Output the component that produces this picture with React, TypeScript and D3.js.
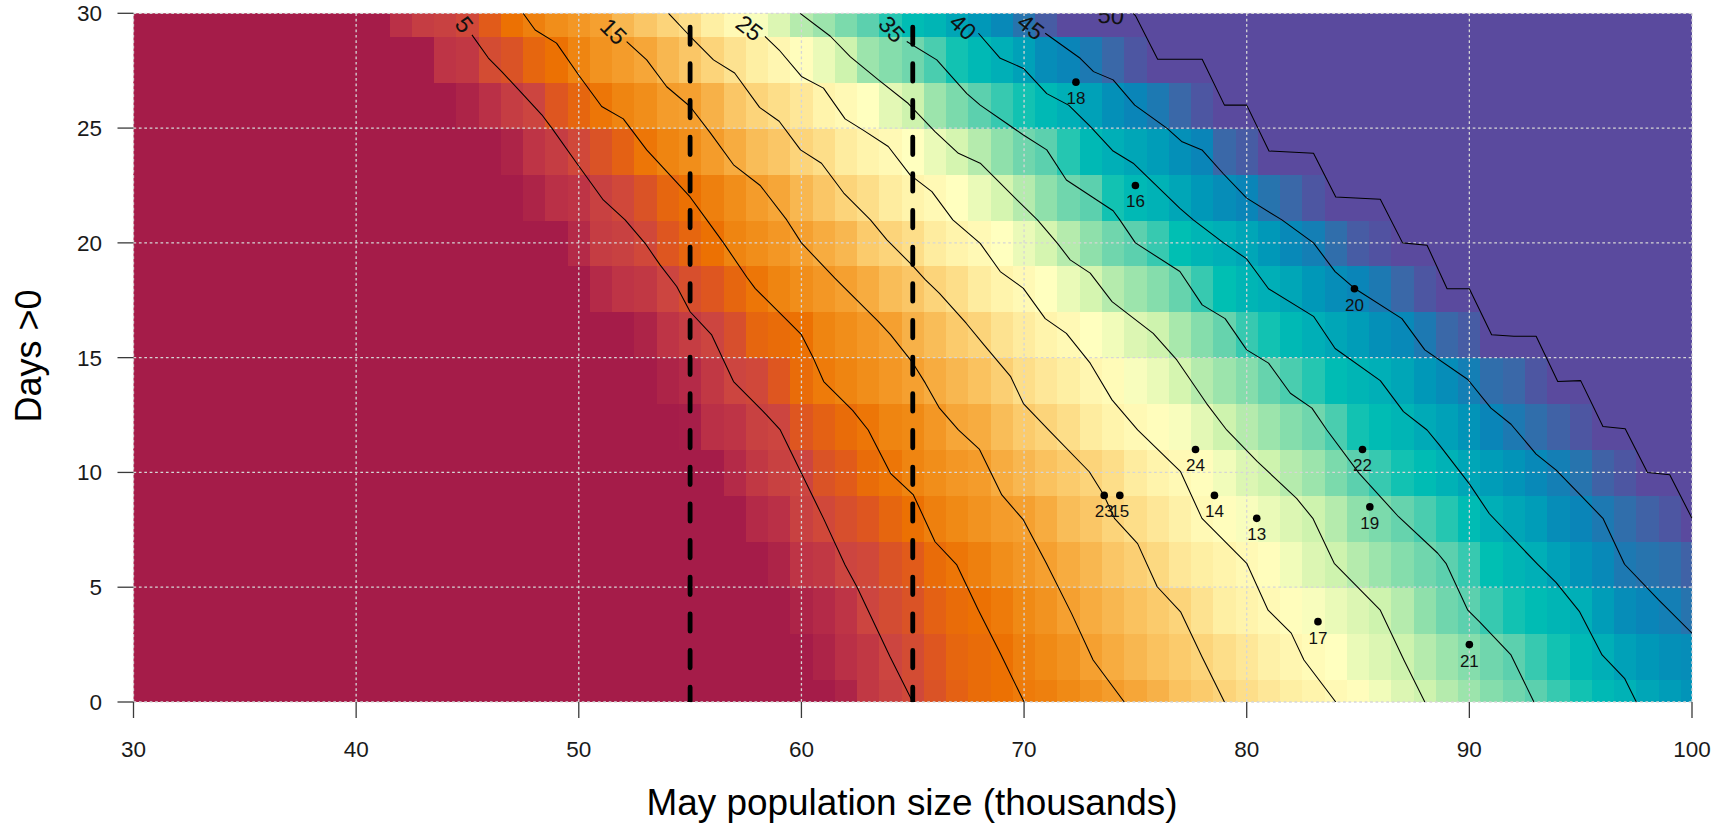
import React from "react";
import * as d3 from "d3";

const W = 1719, H = 824;
const plot = { left: 133.5, right: 1692, top: 13.3, bottom: 702 };

const xTicks = [30, 40, 50, 60, 70, 80, 90, 100];
const yTicks = [0, 5, 10, 15, 20, 25, 30];

const colorValues = [0, 1, 2.5, 5, 7.5, 10, 12.5, 15, 17.5, 20, 22.5, 25, 26.5, 30, 32.5, 35, 37.5, 40, 42.5, 45, 47.5, 50];
const colorStops = ["#A51C49", "#A71E49", "#BA3047", "#CC4540", "#DE5620", "#EC7103", "#F08A15", "#F5A030", "#F9BD58", "#FCD47A", "#FEEC9F", "#FFF9B5", "#FFFFBF", "#CEF3AE", "#8FE0AB", "#5CD0AE", "#00BFB3", "#00AFB7", "#0098B8", "#0A85B8", "#3A68A8", "#5A4A9E"];

// Heat-map rows: cells left of the first column are 0, cells past the end of a row are 50.
const rowDays = [0, 2, 4, 6, 8, 10, 12, 14, 16, 18, 20, 22, 24, 26, 28, 30];
const rowFirstColumn = [62, 61, 60, 59, 58, 57, 55, 54, 53, 51, 50, 48, 47, 45, 44, 42];
const row00 = [1.5, 3.5, 4.5, 5.5, 7, 8.5, 9.5, 10, 11, 11.5, 12.5, 13.5, 14.5, 15.5, 16.5, 18, 19, 20, 21, 22, 23, 24, 25, 26, 27.5, 29, 30, 31, 32, 33, 34, 35, 36, 37, 38.5, 39.5, 41, 42, 43];
const row02 = [1.5, 2.5, 3.5, 5, 6, 7.5, 9, 9.5, 10, 11.5, 12.5, 13.5, 15, 16, 17, 18, 19, 20, 21, 22, 23.5, 24.5, 25.5, 26.5, 28, 29, 30, 31, 32, 33, 34, 35, 36, 37, 38.5, 40, 41.5, 42.5, 43.5, 44];
const row04 = [1.5, 2, 3, 5, 6, 7, 8.5, 9.5, 10, 11, 12.5, 13.5, 15, 16, 17, 18, 19, 20, 21.5, 23, 24, 25, 26, 27, 28, 29, 30, 31, 32.5, 34, 35, 36, 37, 38, 39, 40, 42, 44, 45, 45.5, 46.5];
const row06 = [1.5, 3, 3.5, 5, 5.5, 7, 8, 9.5, 10.5, 11.5, 13, 14, 15, 16, 17, 18.5, 19.5, 20.5, 22, 23, 24, 25, 26, 27.5, 29, 30, 31, 32, 33, 34, 35, 36, 37.5, 39, 40, 41.5, 43, 44.5, 46, 46.5, 47, 48];
const row08 = [2, 2.5, 4.5, 5.5, 6.5, 7.5, 9, 10, 11.5, 12.5, 13.5, 14.5, 15, 16, 17.5, 18.5, 20, 21, 22, 23.5, 25, 26, 27, 28, 29, 30, 31, 32.5, 33.5, 34.5, 35.5, 36.5, 38, 40, 41, 42, 44, 45, 46, 47, 48, 49];
const row10 = [2, 3.5, 4.5, 5, 7, 8, 9.5, 10.5, 12, 13, 14, 14.5, 16, 17, 18, 19, 20, 21, 22.5, 24, 25, 26, 27.5, 29, 30, 31, 32, 33.5, 35, 36, 37, 38, 39.5, 41, 42, 43, 44.5, 45.5, 46.5, 48, 49];
const row12 = [1, 2.5, 3, 4.5, 5, 7.5, 8.5, 9.5, 10.5, 12, 12.5, 14, 15.5, 16, 17.5, 19, 20, 21, 22.5, 24, 25, 26, 27, 28.5, 30, 31, 32, 33, 34, 35.5, 37, 38, 39, 40.5, 41.5, 43, 45, 46, 47, 48, 49];
const row14 = [1.5, 2, 3.5, 5, 5.5, 7.5, 9.5, 11, 12, 13, 14, 15, 16, 17, 18, 19.5, 21, 22, 23, 24.5, 25.5, 27, 28, 29.5, 31, 32, 33, 34.5, 35.5, 36.5, 38, 39, 40, 41, 42.5, 44, 45.5, 47, 47.5, 49];
const row16 = [1.5, 3, 4, 5, 6.5, 9, 9.5, 10, 12, 13, 14, 15, 16.5, 17.5, 19, 20, 21.5, 22.5, 24, 25, 26.5, 27.5, 29, 30, 31.5, 33, 34.5, 36, 37, 38.5, 40, 41, 42, 43.5, 44.5, 46, 47.5, 48.5];
const row18 = [2, 3, 3.5, 5, 6.5, 7.5, 9, 10.5, 12, 13, 14, 15, 16, 17.5, 18.5, 20, 21, 22.5, 24, 25, 26.5, 28, 29.5, 31, 32, 33, 34.5, 36, 37.5, 39, 40, 41, 42.5, 44, 45, 46, 47.5, 49];
const row20 = [2, 4, 4.5, 5.5, 7.5, 9, 10, 12, 13, 14, 15, 16, 17, 19, 20, 21, 22.5, 24, 25, 26.5, 28, 29.5, 31, 32.5, 34, 35, 36, 37.5, 39, 40, 41, 42.5, 44.5, 45.5, 47, 48.5, 49.3];
const row22 = [1.5, 2.5, 3, 4.5, 5.5, 7, 9, 10, 11.5, 13, 14.5, 15.5, 17, 18.5, 20, 21, 22.5, 24, 25, 26.5, 28, 29.5, 31, 32.5, 34, 35, 37, 38.5, 39.5, 41, 42.5, 44, 45, 46.5, 47.5, 49];
const row24 = [1.5, 3, 4, 5.5, 7, 8.5, 10.5, 12, 13, 14.5, 16, 17.5, 18.5, 20, 21, 22.5, 24, 25, 26.5, 28, 29.5, 31, 32.5, 34, 35, 36.5, 38.5, 40, 41, 42, 43.5, 45, 47.5, 48.5];
const row26 = [1.5, 2.5, 4, 5, 7.5, 9, 10.5, 12, 13, 14.5, 15, 16.5, 18.5, 20, 21, 22, 24, 25, 26.5, 28.5, 30, 32, 33.5, 35, 36, 37, 38.5, 40, 41.5, 43.5, 45, 46, 47.5, 49];
const row28 = [3, 3.5, 6, 7, 9, 10, 12, 13.5, 14.5, 15.5, 17, 18.5, 20, 21.5, 23, 24.5, 26, 28, 30, 32, 33, 34, 35.5, 37, 38.5, 40, 41.5, 44, 45, 46, 47.5, 49];
const row30 = [2.5, 4, 4.5, 5.5, 8, 10, 11.5, 13, 14, 15, 17, 18.5, 20, 21, 23, 25, 27, 29, 31, 32, 33.5, 35, 36.5, 38, 39, 41, 42.5, 44.5, 46.5, 48.5];
const heatRows = [row00, row02, row04, row06, row08, row10, row12, row14, row16, row18, row20, row22, row24, row26, row28, row30];
const columns = d3.range(30, 101);

type P = [number, number];
const contour05: P[] = [[65, 0], [63.98, 1.97], [62.49, 5.02], [61.96, 5.97], [60.99, 8], [60, 9.96], [59.05, 11.85], [58.44, 12.5], [56.95, 13.96], [55.97, 15.99], [55, 17], [54.4, 18.1], [53.65, 19.04], [52.98, 19.98], [52.08, 21], [51.1, 21.87], [49.91, 23.47], [48.79, 25], [48.34, 25.58], [47.44, 26.52], [46.54, 27.46], [45.94, 28.05], [45.2, 29.06]];
const contour10: P[] = [[70, 0], [68.93, 2.12], [67.95, 4], [66.98, 5.97], [66, 6.98], [65.03, 9.02], [64, 9.96], [63, 11.85], [62.3, 12.7], [61, 13.96], [60.54, 14.97], [60, 16], [59.34, 16.65], [57.92, 18.02], [57.55, 18.5], [56.5, 20], [55.75, 21], [55, 22], [53.05, 24.05], [52, 25.4], [51.03, 25.94], [50, 27.3], [49, 28.7], [48.04, 29.27], [47.5, 30]];
const contour15: P[] = [[74.5, 0], [73.1, 1.83], [72.13, 3.86], [71, 6.04], [69.97, 7.93], [69, 9.02], [68, 11], [67.05, 11.85], [66.2, 12.8], [65.56, 13.9], [64.96, 14.83], [64, 16], [63.46, 16.57], [61.96, 18.02], [61.5, 18.46], [60, 20], [59.34, 21], [58.15, 22.5], [56.95, 23.4], [55.9, 24.8], [55, 25.94], [53.95, 26.8], [53.05, 27.97], [52.15, 28.77]];
const contour20: P[] = [[79, 0], [77.99, 1.97], [77.03, 3.93], [75.98, 5.02], [75.1, 6.9], [74.06, 8], [73.58, 9.02], [72.93, 10.03], [71.1, 11.85], [69.97, 13], [69.4, 14.17], [68.2, 15.56], [67.4, 16.5], [66.2, 17.8], [65.56, 18.4], [64.96, 19.04], [63.84, 20.13], [63.1, 21], [61.9, 22.17], [60.9, 23.47], [59.96, 24.05], [59, 25.3], [58.12, 25.9], [57, 27.4], [56.05, 27.97], [55, 29], [54.03, 30]];
const contour25: P[] = [[84, 0], [82.57, 1.83], [82, 3], [80.96, 4], [80, 6.04], [77.99, 8], [77.03, 10.03], [75.1, 11.85], [73.95, 13.16], [72.97, 14.76], [71.9, 16.06], [70.95, 16.7], [69.97, 18.02], [68.93, 18.75], [68.03, 19.98], [66.8, 21], [65.86, 22.23], [64.88, 22.96], [63.9, 24.2], [62.79, 24.9], [61.96, 25.4], [60.99, 26.74], [60, 27.25], [59, 28.4], [58.36, 29]];
const contour30: P[] = [[88, 0], [87.06, 1.83], [86, 4], [83.93, 6.04], [82.97, 8], [82.24, 8.87], [80.48, 10.47], [79.1, 11.85], [78.2, 13], [76.86, 14.9], [75.8, 16.06], [73.95, 17.44], [72.97, 18.68], [72.07, 19.26], [71.5, 19.98], [70.6, 21], [69.68, 21.87], [68.03, 23.47], [67.05, 23.9], [66, 24.85], [64.8, 26.07], [63.46, 27.1], [62.2, 28.1], [61.3, 29], [59.94, 30]];
const contour35: P[] = [[92.9, 0], [91.87, 2.05], [90.45, 3.5], [89.93, 4], [88.95, 6.04], [88.58, 6.48], [86.82, 8.07], [85.05, 9.96], [83.6, 11.85], [82.93, 12.8], [81.96, 13.45], [80.98, 14.76], [80, 15.34], [79.03, 16.7], [78, 17.3], [77, 18.75], [75, 20], [74.3, 21], [74, 21.4], [71.9, 22.74], [71.02, 24.05], [69.97, 24.7], [68.03, 26], [67.43, 26.5], [66.08, 27.97], [64.73, 28.77]];
const contour40: P[] = [[97.5, 0], [96.97, 1.03], [95.96, 2.05], [94.94, 3.95], [93.9, 5.2], [93.07, 6], [92.47, 6.6], [90.9, 8.2], [90, 9.5], [88.65, 11.2], [88.1, 11.85], [87.04, 12.65], [86, 14], [83.97, 15.4], [83, 16.8], [80.98, 18], [80, 19.3], [78.96, 20], [77.6, 21], [77, 21.5], [74.9, 23.47], [74, 24], [72.97, 25.07], [72, 26], [71.02, 26.5], [69.97, 27.6], [68.93, 28.04], [67.95, 29.13]];
const contour45: P[] = [[100, 3], [98.5, 4.45], [96.97, 6], [96, 8], [95.1, 8.9], [93.9, 10.1], [93, 10.8], [91.87, 12.1], [90.97, 12.8], [89.93, 14.05], [88, 15.34], [86.97, 16.7], [84.87, 18], [83.97, 18.75], [83, 20], [81.58, 21], [80, 21.95], [78.96, 23], [77.99, 24.05], [77.1, 24.4], [76.41, 25], [74.97, 26], [74, 27.1], [73.12, 27.46], [72.52, 28.04], [70.95, 29.13]];
const contour50: P[] = [[100, 8], [99, 9.9], [98, 10], [97, 11.9], [96, 12], [95, 14], [93.97, 13.96], [93, 15.93], [92, 15.93], [91, 16], [90, 18], [89, 18], [88.1, 19.9], [87, 20], [86, 21.9], [84, 22], [83, 23.9], [81, 24], [80, 26], [79, 26], [78, 28], [76, 28], [75, 29.9], [74.9, 30]];
const contourLines = [contour05, contour10, contour15, contour20, contour25, contour30, contour35, contour40, contour45, contour50];

const contourLabels = ["5", "15", "25", "35", "40", "45", "50"];
const contourLabelX = [44.85, 51.55, 57.65, 64.05, 67.25, 70.3, 73.9];
const contourLabelY = [29.5, 29.2, 29.35, 29.3, 29.4, 29.4, 29.9];
const contourLabelAngle = [52, 45, 38, 48, 42, 38, 5];

const studyLabels = ["18", "16", "20", "24", "22", "23", "15", "14", "13", "19", "17", "21"];
const studyX = [72.33, 75, 84.84, 77.7, 85.2, 73.6, 74.3, 78.55, 80.45, 85.53, 83.2, 90];
const studyY = [27, 22.5, 18, 11, 11, 9, 9, 9, 8, 8.5, 3.5, 2.5];

const referenceX = [55, 65];
const referenceTop = 29.4;

const font = "'Liberation Sans', Arial, sans-serif";

export default function App() {
  const x = d3.scaleLinear().domain([30, 100]).range([plot.left, plot.right]);
  const y = d3.scaleLinear().domain([0, 30]).range([plot.bottom, plot.top]);
  const color = d3.scaleLinear<string>().domain(colorValues).range(colorStops).interpolate(d3.interpolateRgb).clamp(true);
  const line = d3.line<P>().x((d) => x(d[0])).y((d) => y(d[1]));

  const cells: React.ReactNode[] = [];
  rowDays.forEach((day, r) => {
    columns.forEach((c) => {
      const i = c - rowFirstColumn[r];
      const v = i < 0 ? 0 : i >= heatRows[r].length ? 50 : heatRows[r][i];
      const px0 = x(c - 0.5), px1 = x(c + 0.5), py0 = y(day + 1), py1 = y(day - 1);
      cells.push(<rect key={`${r}-${c}`} x={px0} y={py0} width={px1 - px0 + 0.6} height={py1 - py0 + 0.6} fill={color(v)} shapeRendering="crispEdges" />);
    });
  });

  const gridProps = { stroke: "#D6D6D6", strokeWidth: 1.3, strokeDasharray: "2.7 2.7" };

  return (
    <svg width={W} height={H} viewBox={`0 0 ${W} ${H}`} style={{ position: "absolute", left: 0, top: 0, background: "#fff" }} fontFamily={font}>
      <defs>
        <clipPath id="plot-clip">
          <rect x={plot.left} y={plot.top} width={plot.right - plot.left} height={plot.bottom - plot.top} />
        </clipPath>
      </defs>
      <g clipPath="url(#plot-clip)">{cells}</g>

      <g>
        {xTicks.map((t) => <line key={t} x1={x(t)} x2={x(t)} y1={plot.top} y2={plot.bottom} {...gridProps} />)}
        {yTicks.map((t) => <line key={t} x1={plot.left} x2={plot.right} y1={y(t)} y2={y(t)} {...gridProps} />)}
      </g>

      <g clipPath="url(#plot-clip)">
        {contourLines.map((pts, i) => <path key={i} d={line(pts) ?? ""} fill="none" stroke="#000" strokeWidth={1.05} strokeLinejoin="round" />)}
        {contourLabels.map((t, i) => (
          <text key={t} transform={`translate(${x(contourLabelX[i])},${y(contourLabelY[i])}) rotate(${contourLabelAngle[i]})`} textAnchor="middle" dominantBaseline="central" fontSize={23.5} fill="#111">{t}</text>
        ))}
      </g>

      {referenceX.map((v) => (
        <line key={v} x1={x(v)} x2={x(v)} y1={y(referenceTop)} y2={plot.bottom} stroke="#000" strokeWidth={4.8} strokeLinecap="round" strokeDasharray="17.4 19.27" clipPath="url(#plot-clip)" />
      ))}

      {studyLabels.map((t, i) => (
        <g key={t}>
          <circle cx={x(studyX[i])} cy={y(studyY[i])} r={3.8} fill="#000" />
          <text x={x(studyX[i])} y={y(studyY[i]) + 22} textAnchor="middle" fontSize={17} fill="#111">{t}</text>
        </g>
      ))}

      <g stroke="#3a3a3a" strokeWidth={1.3}>
        {xTicks.map((t) => <line key={t} x1={x(t)} x2={x(t)} y1={plot.bottom} y2={plot.bottom + 16} />)}
        {yTicks.map((t) => <line key={t} x1={plot.left} x2={plot.left - 16} y1={y(t)} y2={y(t)} />)}
      </g>
      <g fontSize={22.5} fill="#1a1a1a">
        {xTicks.map((t) => <text key={t} x={x(t)} y={757} textAnchor="middle">{t}</text>)}
        {yTicks.map((t) => <text key={t} x={102} y={y(t) + 8} textAnchor="end">{t}</text>)}
      </g>
      <text x={912} y={815} textAnchor="middle" fontSize={36.9} fill="#000">May population size (thousands)</text>
      <text transform={`translate(41,356) rotate(-90)`} textAnchor="middle" fontSize={36} fill="#000">Days &gt;0</text>
    </svg>
  );
}
